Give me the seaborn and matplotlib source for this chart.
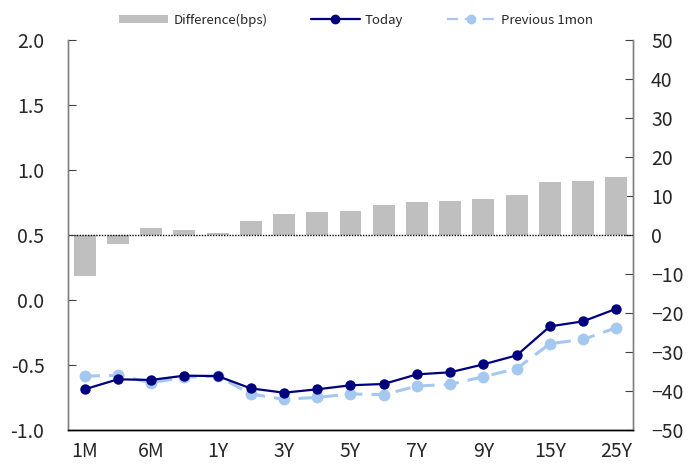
import numpy as np
import pandas as pd
import matplotlib
matplotlib.use("Agg")
import matplotlib.pyplot as plt
from matplotlib.ticker import FixedLocator, NullFormatter, FixedFormatter
from matplotlib.lines import Line2D
from matplotlib.patches import Patch
import seaborn as sns

# Curve tenors
tenors = ["1M", "3M", "6M", "9M", "1Y", "2Y", "3Y", "4Y", "5Y",
          "6Y", "7Y", "8Y", "9Y", "10Y", "15Y", "20Y", "25Y"]

# Yields (%), left axis
today = [-0.687, -0.610, -0.615, -0.582, -0.585, -0.680, -0.713, -0.687, -0.656,
         -0.646, -0.572, -0.556, -0.495, -0.426, -0.203, -0.164, -0.067]
previous_1mon = [-0.585, -0.580, -0.636, -0.595, -0.585, -0.723, -0.764, -0.749, -0.723,
                 -0.728, -0.662, -0.649, -0.590, -0.528, -0.336, -0.303, -0.213]

# Change over the month (bps), right axis
difference_bps = [-10.5, -2.3, 1.8, 1.2, 0.4, 3.6, 5.4, 5.8, 6.2,
                  7.6, 8.5, 8.8, 9.3, 10.3, 13.6, 13.8, 14.9]

sns.set_style("white")
plt.rcParams["font.family"] = ["Noto Sans CJK KR", "DejaVu Sans"]

NAVY = "#00007f"
LIGHT = "#a4c8ef"
GREY = "#bfbfbf"

pos = np.arange(len(tenors))
df = pd.DataFrame({"pos": pos, "tenor": tenors, "today": today,
                   "prev": previous_1mon, "diff": difference_bps})

fig = plt.figure(figsize=(6.94, 4.66), dpi=100)
ax = fig.add_axes([68 / 694, 36 / 466, (633 - 68) / 694, (430 - 40) / 466])
ax2 = ax.twinx()

# Bars on the secondary (bps) axis, drawn behind the yield lines
sns.barplot(data=df, x="pos", y="diff", ax=ax2, color=GREY, width=0.66,
            saturation=1, native_scale=True, edgecolor="none")
ax2.axhline(0, color="black", linestyle=(0, (1, 1)), linewidth=1.0, zorder=3)
ax2.set_ylim(-50, 50)
ax2.set_yticks(np.arange(-50, 51, 10))

# Yield curves on the primary axis
sns.lineplot(data=df, x="pos", y="prev", ax=ax, color=LIGHT, linewidth=2.2,
             marker="o", markersize=8.5, markeredgewidth=0, dashes=False,
             linestyle=(0, (5, 3)), zorder=3)
sns.lineplot(data=df, x="pos", y="today", ax=ax, color=NAVY, linewidth=1.6,
             marker="o", markersize=7.5, markeredgewidth=0, zorder=4)

ax.set_zorder(ax2.get_zorder() + 1)
ax.patch.set_visible(False)

ax.set_ylim(-1.0, 2.0)
ax.set_yticks(np.arange(-1.0, 2.01, 0.5))
ax.set_yticklabels([f"{v:.1f}" for v in np.arange(-1.0, 2.01, 0.5)])
ax.set_xlim(-0.5, len(tenors) - 0.5)

# Ticks at category boundaries, labels on every other tenor
ax.xaxis.set_major_locator(FixedLocator(np.arange(-0.5, len(tenors), 1.0)))
ax.xaxis.set_major_formatter(NullFormatter())
ax.xaxis.set_minor_locator(FixedLocator(pos[::2]))
ax.xaxis.set_minor_formatter(FixedFormatter(tenors[::2]))
ax.tick_params(axis="x", which="major", direction="in", length=5, width=0.8,
               color="#404040")
ax.tick_params(axis="x", which="minor", length=0, labelsize=14, pad=8)
ax.tick_params(axis="y", direction="in", length=6, width=0.8, labelsize=14,
               pad=17, color="#404040")
ax2.tick_params(axis="y", direction="in", length=6, width=0.8, labelsize=14,
                pad=13, color="#404040")

ax.set_xlabel("")
ax.set_ylabel("")
ax2.set_xlabel("")
ax2.set_ylabel("")

for a in (ax, ax2):
    a.spines["top"].set_visible(False)
    a.spines["left"].set_color("#808080")
    a.spines["right"].set_color("#808080")
    a.spines["bottom"].set_color("black")
    for s in a.spines.values():
        s.set_linewidth(1.0)

handles = [
    Patch(facecolor=GREY, edgecolor="none"),
    Line2D([], [], color=NAVY, linewidth=1.6, marker="o", markersize=6),
    Line2D([], [], color=LIGHT, linewidth=1.6, linestyle=(0, (5, 3)),
           marker="o", markersize=6),
]
fig.legend(handles, ["Difference(bps)", "Today", "Previous 1mon"],
           loc="center", bbox_to_anchor=(356 / 694, 1 - 20 / 466), ncol=3,
           frameon=False, fontsize=9.5, handlelength=3.7, handleheight=0.6,
           columnspacing=3.3, handletextpad=0.4)

fig.savefig("out.png", dpi=100)
